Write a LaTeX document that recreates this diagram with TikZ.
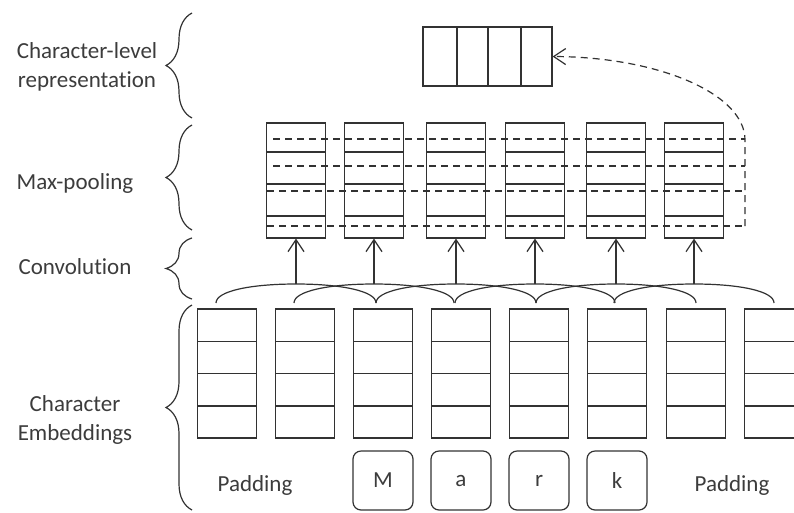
\documentclass[tikz,border=0pt]{standalone}
\usepackage{fontspec}
\setmainfont{Carlito}[Ligatures=NoCommon]
\usetikzlibrary{calc,arrows.meta,decorations.pathreplacing}

\definecolor{inkgray}{RGB}{50,50,50}
\definecolor{txtgray}{RGB}{60,60,60}

\tikzset{
  % split a box into rows at the given fractions
  rowsplit/.style={path picture={
    \foreach \f in {#1}
      \draw[line width=1.5pt, inkgray] ($(path picture bounding box.north west)!\f!(path picture bounding box.south west)$)
         -- ($(path picture bounding box.north east)!\f!(path picture bounding box.south east)$);}},
  colsplit/.style={path picture={
    \foreach \f in {#1}
      \draw[line width=1.5pt, inkgray] ($(path picture bounding box.north west)!\f!(path picture bounding box.north east)$)
         -- ($(path picture bounding box.south west)!\f!(path picture bounding box.south east)$);}},
  embcol/.style={draw, inner sep=0pt, minimum width=59pt, minimum height=129pt, rowsplit={0.25,0.5,0.75}},
  poolcol/.style={draw, inner sep=0pt, minimum width=59pt, minimum height=115pt, rowsplit={0.252,0.53,0.81}},
  charbox/.style={draw, rounded corners=8pt, inner sep=0pt, minimum width=60pt, minimum height=59pt},
  lbl/.style={text=txtgray, align=center, font=\fontsize{23}{29}\selectfont},
  lbrace/.style={decorate, decoration={brace, amplitude=26pt}},
  barb/.style={-{Straight Barb[length=12pt,width=16pt]}},
  pooldash/.style={dash pattern=on 7pt off 5pt},
}

\begin{document}
\begin{tikzpicture}[x=1pt, y=-1pt, line width=1.2pt, color=inkgray]
  \useasboundingbox (0,0) rectangle (794,512);
  \clip (0,0) rectangle (794,512);

  % character embeddings
  \foreach \x [count=\i] in {227,305,383,461,539,617,696,774}
    \node[embcol] (e\i) at (\x,373.5) {};

  % characters
  \foreach \x/\c [count=\i] in {383/M,461/a,539/r,617/k}
    \node[charbox, lbl] (ch\i) at (\x,480.5) {\c};
  \node[lbl] (padl) at (255,485) {Padding};
  \node[lbl] (padr) at (732,485) {Padding};

  % max-pooling columns
  \foreach \x [count=\i] in {296,374,456,535,616,694}
    \node[poolcol] (p\i) at (\x,180.5) {};

  % pooled rows
  \draw[pooldash] (273,139) -- (745,139);
  \draw[pooldash] (273,166) -- (745,166);
  \draw[pooldash] (267,191) -- (745,191);
  \draw[pooldash] (267,226) -- (745,226);
  \coordinate (turn) at (745,226);

  % character-level representation
  \node[draw, inner sep=0pt, minimum width=129pt, minimum height=59pt,
        colsplit={0.264,0.504,0.76}] (rep) at (487.5,56.5) {};
  \draw[pooldash, barb]
    (turn) -- (745,140) .. controls (745,94) and (659,57) .. (rep.east);

  % convolution filters
  \foreach \x [count=\i] in {296,374,456,535,616,694} {
    \coordinate (c\i) at (\x,284);
    \draw (\x-80,303) .. controls (\x-80,291) and (\x-45,284) .. (c\i)
          .. controls (\x+45,284) and (\x+80,291) .. (\x+80,303);
    \draw[barb] (c\i) -- (p\i.south);
  }

  % layer braces
  \draw[lbrace] (192,118) -- (192,13);
  \draw[lbrace] (192,230) -- (192,125);
  \draw[lbrace] (192,299) -- (192,238);
  \draw[lbrace] (192,510) -- (192,305);

  \node[lbl] (lrep) at (87,67) {Character-level\\representation};
  \node[lbl] (lpool) at (75,183) {Max-pooling};
  \node[lbl] (lconv) at (75,267) {Convolution};
  \node[lbl] (lemb) at (75,420) {Character\\Embeddings};
\end{tikzpicture}
\end{document}
